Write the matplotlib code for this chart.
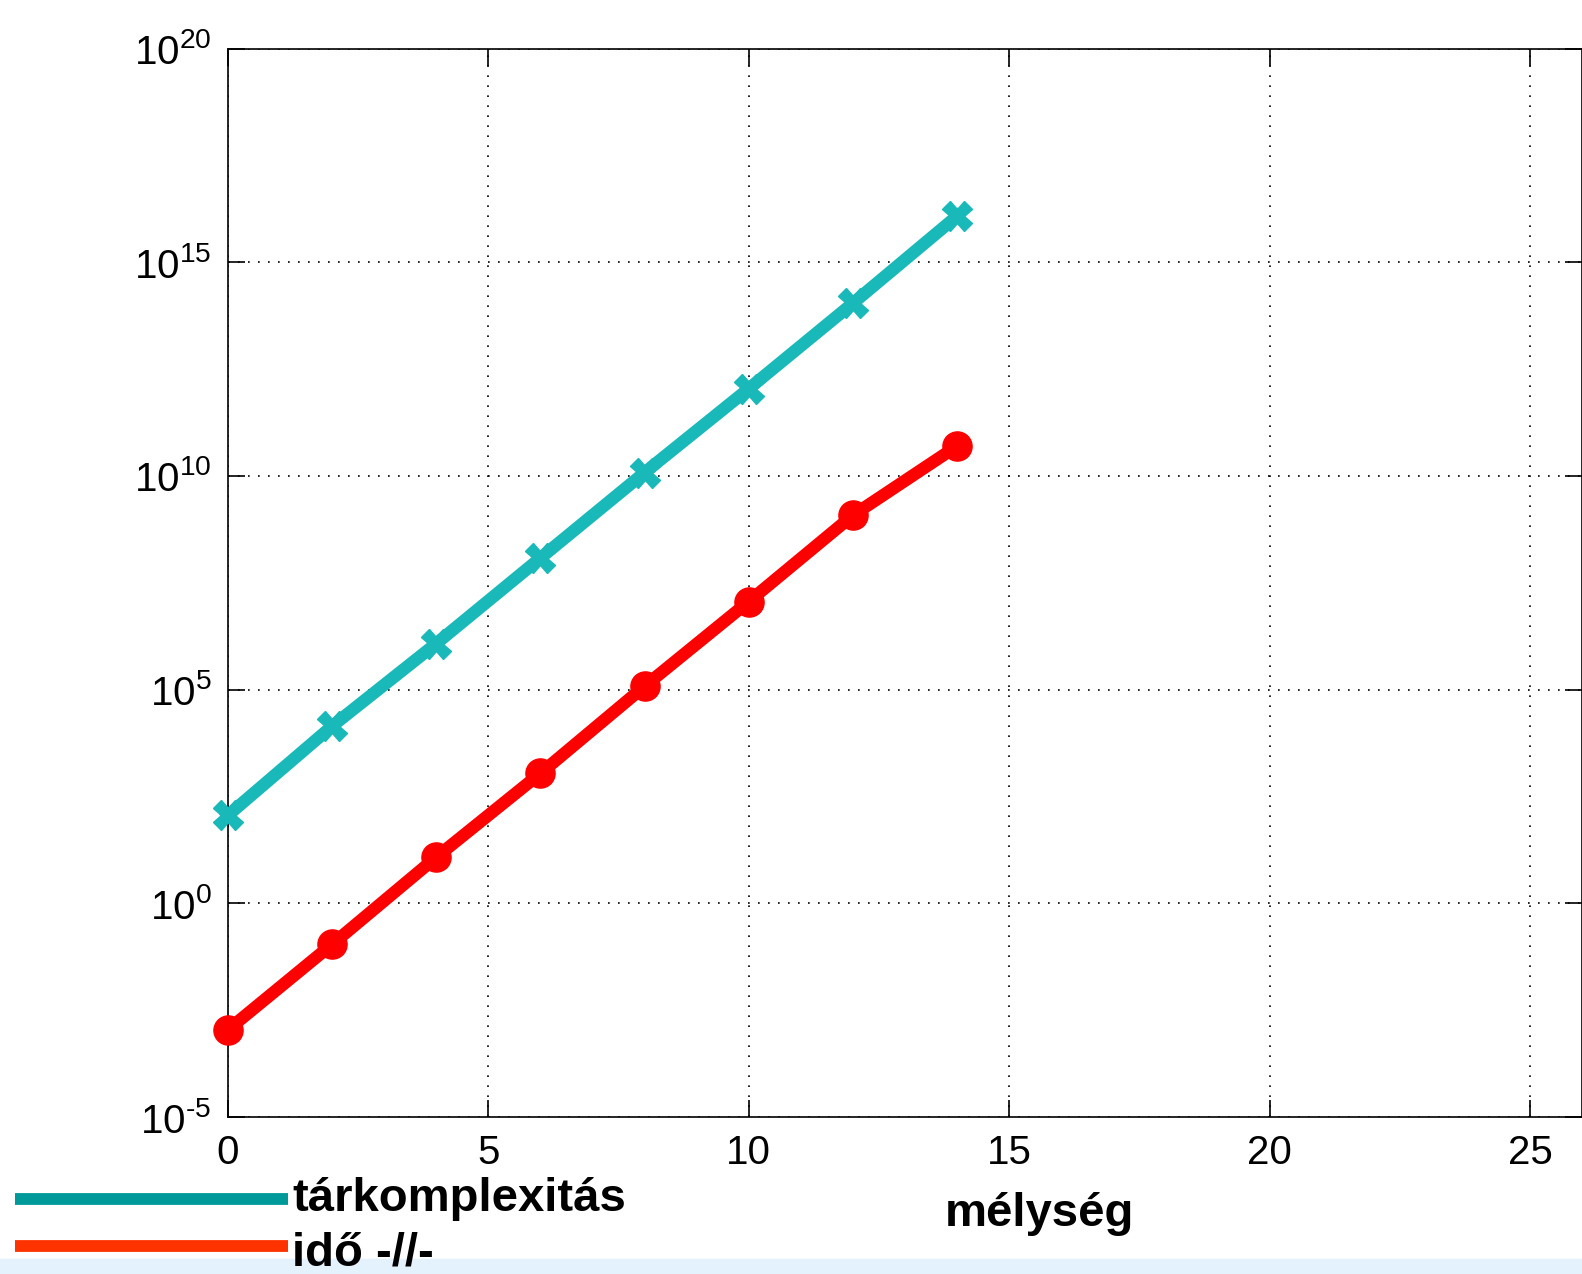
import matplotlib
matplotlib.use('Agg')
import matplotlib.pyplot as plt
from matplotlib.lines import Line2D
from matplotlib.patches import Rectangle

plt.rcParams['font.family'] = ['Liberation Sans', 'DejaVu Sans']
plt.rcParams['mathtext.fontset'] = 'custom'
plt.rcParams['mathtext.rm'] = 'Liberation Sans'
plt.rcParams['axes.unicode_minus'] = False

# mélység (depth) values
melyseg = [0, 2, 4, 6, 8, 10, 12, 14]
# tárkomplexitás (space) and idő (time)
tar = [115, 1.4e4, 1.2e6, 1.2e8, 1.2e10, 1.1e12, 1.1e14, 1.2e16]
ido = [1.1e-3, 0.11, 12, 1.1e3, 1.2e5, 1.15e7, 1.2e9, 5e10]

x_ticks = [0, 5, 10, 15, 20, 25]
y_ticks = [1e-5, 1e0, 1e5, 1e10, 1e15, 1e20]
y_labels = [r'$10^{\text{-5}}$', '$10^{0}$', '$10^{5}$', '$10^{10}$',
            '$10^{15}$', '$10^{20}$']

fig = plt.figure(figsize=(15.82, 12.74), dpi=100)
ax = fig.add_axes([0.1441, 0.1232, 0.8559, 0.8387])

ax.semilogy(melyseg, tar, color='#19b9b9', lw=9, marker='X', ms=21,
            mec='#19b9b9', mfc='#19b9b9', zorder=3, clip_on=False)
ax.semilogy(melyseg, ido, color='#ff0000', lw=9, marker='o', ms=21,
            mec='#ff0000', mfc='#ff0000', zorder=3, clip_on=False)

ax.set_xlim(0, 26)
ax.set_ylim(1e-5, 1e20)
ax.set_xticks(x_ticks)
ax.set_yticks(y_ticks)
ax.set_yticklabels(y_labels)
ax.minorticks_off()
ax.grid(True, color='black', linestyle=(0, (1, 5)), linewidth=1.2)
ax.tick_params(direction='in', length=12, width=1.2, top=True, right=True,
               labelsize=29, pad=12)
for s in ax.spines.values():
    s.set_linewidth(1.2)

# light band at the bottom
fig.patches.append(Rectangle((0, 0), 1, 15 / 1274, transform=fig.transFigure,
                             color='#e3f2fc', zorder=0))

# hand-drawn legend below the axes
fig.add_artist(Line2D([15 / 1582, 288 / 1582], [0.0589, 0.0589],
                      color='#009999', lw=8.5, solid_capstyle='butt'))
fig.add_artist(Line2D([15 / 1582, 288 / 1582], [0.0220, 0.0220],
                      color='#ff3300', lw=8.5, solid_capstyle='butt'))
fig.text(292 / 1582, 0.0495, 'tárkomplexitás', fontsize=34, fontweight='bold',
         va='baseline')
fig.text(292 / 1582, 0.0065, 'idő -//-', fontsize=34, fontweight='bold',
         va='baseline')
fig.text(0.657, 0.0377, 'mélység', fontsize=34, fontweight='bold',
         ha='center', va='baseline')

fig.savefig('out.png', dpi=100)
